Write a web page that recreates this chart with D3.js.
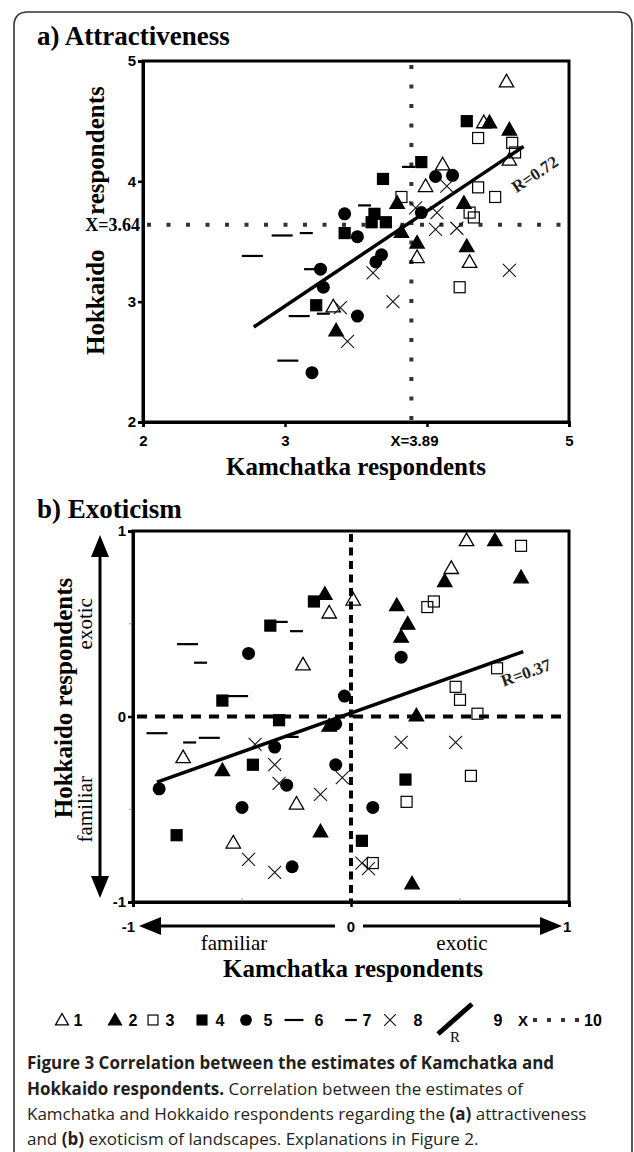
<!DOCTYPE html>
<html><head><meta charset="utf-8">
<script src="https://cdn.jsdelivr.net/npm/d3@7"></script>
<style>body{margin:0;background:#fff} svg{display:block}</style>
</head><body><svg id="c" width="634" height="1152"></svg>
<script>
// ---------- DATA ----------
const seriesIds = ["1","2","3","4","5","6","7","8"];
const seriesShapes = ["triOpen","triFill","sqOpen","sqFill","circle","dashLong","dashShort","cross"];

// a) Attractiveness: [Kamchatka, Hokkaido]
const attr1 = [[4.56,4.83],[4.40,4.49],[4.58,4.18],[4.11,4.14],[3.99,3.96],[3.93,3.37],[4.30,3.33],[3.34,2.96]];
const attr2 = [[4.44,4.49],[4.58,4.43],[4.26,3.82],[3.79,3.82],[3.82,3.58],[3.93,3.49],[4.28,3.46],[3.36,2.76]];
const attr3 = [[4.36,4.36],[4.60,4.32],[4.62,4.24],[4.36,3.95],[4.48,3.87],[4.30,3.74],[4.33,3.70],[4.23,3.12],[3.82,3.87]];
const attr4 = [[4.28,4.50],[3.96,4.16],[3.69,4.02],[3.63,3.73],[3.61,3.66],[3.71,3.66],[3.42,3.57],[3.22,2.97]];
const attr5 = [[4.06,4.04],[4.18,4.05],[3.96,3.74],[3.42,3.73],[3.51,3.54],[3.68,3.39],[3.64,3.33],[3.25,3.27],[3.27,3.12],[3.51,2.88],[3.19,2.41]];
const attr6 = [[2.98,3.55],[2.77,3.38],[3.10,2.88],[3.02,2.51]];
const attr7 = [[3.15,3.57],[3.56,3.80],[3.87,4.12],[3.18,3.27],[3.27,2.90]];
const attr8 = [[4.14,3.96],[3.92,3.78],[4.07,3.74],[4.06,3.60],[4.21,3.61],[4.58,3.26],[3.62,3.24],[3.76,3.00],[3.39,2.95],[3.44,2.67]];
const attrFit = [[2.78,2.79],[4.68,4.29]];
const attrR = "R=0.72";
const attrMeanX = 3.89, attrMeanY = 3.64;
const attrXTicks = [2,3,4,5], attrXTickLabels = ["2","3","X=3.89","5"];
const attrYTicks = [2,3,4,5], attrYTickLabels = ["2","3","4","5"];

// b) Exoticism
const exot1 = [[0.53,0.95],[0.46,0.80],[0.01,0.63],[-0.10,0.56],[-0.22,0.28],[-0.77,-0.22],[-0.25,-0.47],[-0.54,-0.68]];
const exot2 = [[0.66,0.95],[0.78,0.75],[0.43,0.73],[-0.12,0.66],[0.21,0.60],[0.26,0.50],[0.23,0.43],[0.30,0.005],[-0.10,-0.05],[-0.59,-0.29],[-0.14,-0.62],[0.28,-0.90]];
const exot3 = [[0.78,0.92],[0.38,0.62],[0.35,0.59],[0.67,0.26],[0.48,0.16],[0.50,0.09],[0.58,0.015],[0.55,-0.32],[0.255,-0.46],[0.10,-0.79]];
const exot4 = [[-0.17,0.62],[-0.37,0.49],[-0.59,0.086],[-0.33,-0.02],[-0.45,-0.26],[0.25,-0.34],[-0.80,-0.64],[0.05,-0.67]];
const exot5 = [[-0.47,0.34],[0.23,0.32],[-0.03,0.11],[-0.07,-0.04],[-0.35,-0.165],[-0.07,-0.26],[-0.295,-0.37],[-0.88,-0.39],[-0.50,-0.49],[0.10,-0.49],[-0.27,-0.81]];
const exot6 = [[-0.75,0.39],[-0.52,0.11],[-0.89,-0.09],[-0.65,-0.115]];
const exot7 = [[-0.32,0.51],[-0.25,0.46],[-0.69,0.29],[-0.74,-0.14],[-0.27,-0.11]];
const exot8 = [[-0.44,-0.15],[-0.35,-0.26],[-0.33,-0.36],[-0.04,-0.33],[-0.14,-0.42],[-0.47,-0.77],[-0.35,-0.84],[0.23,-0.14],[0.48,-0.14],[0.05,-0.79],[0.08,-0.82]];
const exotFit = [[-0.89,-0.354],[0.79,0.35]];
const exotR = "R=0.37";
const exotTicks = [-1,0,1], exotTickLabels = ["-1","0","1"];
const exotMinor = [-0.5,0.5];

// ---------- DRAW ----------
const svg = d3.select("#c");
const SERIF = "'Liberation Serif','Times New Roman',serif";
const SANS = "'Liberation Sans',Arial,sans-serif";

svg.append("path").attr("d","M14,1152 V26 Q14,12 28,12 H618 Q632,12 632,26 V1152")
  .attr("fill","none").attr("stroke","#333").attr("stroke-width",1.6);

function marker(g, shape, x, y, s) {
  s = s || 1;
  if (shape === "triOpen" || shape === "triFill") {
    const h = 7.2*s;
    g.append("path").attr("d",`M${x},${y-h} L${x+h},${y+h*0.75} L${x-h},${y+h*0.75} Z`)
      .attr("fill", shape==="triFill" ? "#000" : "none").attr("stroke","#000").attr("stroke-width",1.3);
  } else if (shape === "sqOpen" || shape === "sqFill") {
    const h = 5.5*s;
    g.append("rect").attr("x",x-h).attr("y",y-h).attr("width",2*h).attr("height",2*h)
      .attr("fill", shape==="sqFill" ? "#000" : "none").attr("stroke","#000").attr("stroke-width",1.2);
  } else if (shape === "circle") {
    g.append("circle").attr("cx",x).attr("cy",y).attr("r",6.5*s).attr("fill","#000");
  } else if (shape === "dashLong" || shape === "dashShort") {
    const w = (shape==="dashLong" ? 10.5 : 6.5)*s;
    g.append("line").attr("x1",x-w).attr("x2",x+w).attr("y1",y).attr("y2",y)
      .attr("stroke","#000").attr("stroke-width",2.2);
  } else if (shape === "cross") {
    const h = 6.5*s;
    g.append("path").attr("d",`M${x-h},${y-h} L${x+h},${y+h} M${x-h},${y+h} L${x+h},${y-h}`)
      .attr("stroke","#111").attr("stroke-width",1.1).attr("fill","none");
  }
}

// ===== Panel a =====
const xA = d3.scaleLinear().domain([2,5]).range([143,569]);
const yA = d3.scaleLinear().domain([2,5]).range([422,61]);
svg.append("text").attr("x",37).attr("y",45).attr("font-family",SERIF).attr("font-weight","bold")
  .attr("font-size",27).text("a) Attractiveness");

const gA = svg.append("g");
gA.append("rect").attr("x",xA(2)).attr("y",yA(5)).attr("width",xA(5)-xA(2)).attr("height",yA(2)-yA(5))
  .attr("fill","none").attr("stroke","#000").attr("stroke-width",3);
gA.append("line").attr("x1",xA(2)+4).attr("x2",xA(5)).attr("y1",yA(attrMeanY)).attr("y2",yA(attrMeanY))
  .attr("stroke","#333").attr("stroke-width",4).attr("stroke-dasharray","4 15.5");
gA.append("line").attr("x1",xA(attrMeanX)).attr("x2",xA(attrMeanX)).attr("y1",yA(5)+4).attr("y2",yA(2))
  .attr("stroke","#333").attr("stroke-width",4).attr("stroke-dasharray","4 15.5");

const axA_b = gA.append("g").attr("transform",`translate(0,${yA(2)})`)
  .call(d3.axisBottom(xA).tickValues(attrXTicks).tickSize(5).tickFormat((d,i)=>attrXTickLabels[i]));
const axA_l = gA.append("g").attr("transform",`translate(${xA(2)},0)`)
  .call(d3.axisLeft(yA).tickValues(attrYTicks).tickSize(5).tickFormat((d,i)=>attrYTickLabels[i]));
[axA_b, axA_l].forEach(ax => {
  ax.select(".domain").attr("stroke","#000").attr("stroke-width",3);
  ax.selectAll(".tick line").attr("stroke","#000").attr("stroke-width",2.5);
  ax.selectAll(".tick text").attr("font-family",SANS).attr("font-weight","bold").attr("font-size",15).attr("fill","#000");
});
axA_b.selectAll(".tick text").attr("dy","1.05em").filter((d,i)=>i===2).attr("dx",-13);
axA_l.selectAll(".tick text").attr("x",-7);
gA.append("text").attr("x",140).attr("y",yA(attrMeanY)+6).attr("text-anchor","end")
  .attr("font-family",SERIF).attr("font-weight","bold").attr("font-size",18).text("X=3.64");
gA.append("text").attr("x",356).attr("y",475).attr("text-anchor","middle")
  .attr("font-family",SERIF).attr("font-weight","bold").attr("font-size",25).text("Kamchatka respondents");
gA.append("text").attr("transform",`translate(104,355) rotate(-90)`)
  .attr("font-family",SERIF).attr("font-weight","bold").attr("font-size",25).text("Hokkaido");
gA.append("text").attr("transform",`translate(104,215) rotate(-90)`)
  .attr("font-family",SERIF).attr("font-weight","bold").attr("font-size",25).text("respondents");

gA.append("line").attr("x1",xA(attrFit[0][0])).attr("y1",yA(attrFit[0][1]))
  .attr("x2",xA(attrFit[1][0])).attr("y2",yA(attrFit[1][1])).attr("stroke","#000").attr("stroke-width",3.5);
{
  const ang = Math.atan2(yA(attrFit[1][1])-yA(attrFit[0][1]), xA(attrFit[1][0])-xA(attrFit[0][0]))*180/Math.PI;
  gA.append("text").attr("transform",`translate(${xA(4.63)},${yA(3.90)}) rotate(${ang})`)
    .attr("font-family",SERIF).attr("font-weight","bold").attr("font-size",17).attr("fill","#222").text(attrR);
}
const attrSeries = [attr1,attr2,attr3,attr4,attr5,attr6,attr7,attr8];
attrSeries.forEach((arr,k) => arr.forEach(p => marker(gA, seriesShapes[k], xA(p[0]), yA(p[1]), 1)));

// ===== Panel b =====
const xB = d3.scaleLinear().domain([-1,1]).range([133,569]);
const yB = d3.scaleLinear().domain([-1,1]).range([902,531]);
svg.append("text").attr("x",37).attr("y",518).attr("font-family",SERIF).attr("font-weight","bold")
  .attr("font-size",27).text("b) Exoticism");
const gB = svg.append("g");
gB.append("rect").attr("x",xB(-1)).attr("y",yB(1)).attr("width",xB(1)-xB(-1)).attr("height",yB(-1)-yB(1))
  .attr("fill","none").attr("stroke","#000").attr("stroke-width",3);
gB.append("line").attr("x1",xB(0)).attr("x2",xB(0)).attr("y1",yB(1)+3).attr("y2",yB(-1))
  .attr("stroke","#000").attr("stroke-width",4).attr("stroke-dasharray","8 5.5");
gB.append("line").attr("x1",xB(-1)+4).attr("x2",xB(1)).attr("y1",yB(0)).attr("y2",yB(0))
  .attr("stroke","#000").attr("stroke-width",4).attr("stroke-dasharray","10 8");
exotMinor.forEach(v => {
  gB.append("line").attr("x1",xB(v)).attr("x2",xB(v)).attr("y1",yB(-1)).attr("y2",yB(-1)-4).attr("stroke","#999").attr("stroke-width",1);
  gB.append("line").attr("x1",xB(-1)).attr("x2",xB(-1)-4).attr("y1",yB(v)).attr("y2",yB(v)).attr("stroke","#999").attr("stroke-width",1);
});
const axB_b = gB.append("g").attr("transform",`translate(0,${yB(-1)})`)
  .call(d3.axisBottom(xB).tickValues(exotTicks).tickSize(5).tickFormat(""));
const axB_l = gB.append("g").attr("transform",`translate(${xB(-1)},0)`)
  .call(d3.axisLeft(yB).tickValues(exotTicks).tickSize(5).tickFormat((d,i)=>exotTickLabels[i]));
[axB_b, axB_l].forEach(ax => {
  ax.select(".domain").attr("stroke","#000").attr("stroke-width",3);
  ax.selectAll(".tick line").attr("stroke","#000").attr("stroke-width",2.5);
  ax.selectAll(".tick text").attr("font-family",SANS).attr("font-weight","bold").attr("font-size",15).attr("fill","#000").attr("x",-7);
});
const arrowY = 926;
gB.append("line").attr("x1",xB(-1)+24).attr("x2",xB(0)-16).attr("y1",arrowY).attr("y2",arrowY).attr("stroke","#000").attr("stroke-width",3);
gB.append("path").attr("d",`M${xB(-1)+6},${arrowY} l22,-9 v18 Z`).attr("fill","#000");
gB.append("line").attr("x1",xB(0)+12).attr("x2",xB(1)-28).attr("y1",arrowY).attr("y2",arrowY).attr("stroke","#000").attr("stroke-width",3);
gB.append("path").attr("d",`M${xB(1)-7},${arrowY} l-22,-9 v18 Z`).attr("fill","#000");
[[-1,"end",xB(-1)+2],[0,"middle",xB(0)],[1,"start",xB(1)-6]].forEach((d,i)=>{
  gB.append("text").attr("x",d[2]).attr("y",arrowY+6).attr("text-anchor",d[1])
    .attr("font-family",SANS).attr("font-weight","bold").attr("font-size",15).text(exotTickLabels[i]);
});
gB.append("text").attr("x",234).attr("y",950).attr("text-anchor","middle").attr("font-family",SERIF).attr("font-size",21).text("familiar");
gB.append("text").attr("x",462).attr("y",950).attr("text-anchor","middle").attr("font-family",SERIF).attr("font-size",21).text("exotic");
gB.append("text").attr("x",353).attr("y",977).attr("text-anchor","middle")
  .attr("font-family",SERIF).attr("font-weight","bold").attr("font-size",25).text("Kamchatka respondents");
const arrowX = 100;
gB.append("line").attr("x1",arrowX).attr("x2",arrowX).attr("y1",yB(1)+22).attr("y2",yB(-1)-22).attr("stroke","#000").attr("stroke-width",3);
gB.append("path").attr("d",`M${arrowX},${yB(1)+4} l-9,22 h18 Z`).attr("fill","#000");
gB.append("path").attr("d",`M${arrowX},${yB(-1)-4} l-9,-22 h18 Z`).attr("fill","#000");
gB.append("text").attr("transform",`translate(92,${yB(0.5)}) rotate(-90)`).attr("text-anchor","middle").attr("font-family",SERIF).attr("font-size",21).text("exotic");
gB.append("text").attr("transform",`translate(92,${yB(-0.5)}) rotate(-90)`).attr("text-anchor","middle").attr("font-family",SERIF).attr("font-size",21).text("familiar");
gB.append("text").attr("transform",`translate(72,698) rotate(-90)`).attr("text-anchor","middle")
  .attr("font-family",SERIF).attr("font-weight","bold").attr("font-size",25).text("Hokkaido respondents");
gB.append("line").attr("x1",xB(exotFit[0][0])).attr("y1",yB(exotFit[0][1]))
  .attr("x2",xB(exotFit[1][0])).attr("y2",yB(exotFit[1][1])).attr("stroke","#000").attr("stroke-width",3.5);
{
  const ang = Math.atan2(yB(exotFit[1][1])-yB(exotFit[0][1]), xB(exotFit[1][0])-xB(exotFit[0][0]))*180/Math.PI;
  gB.append("text").attr("transform",`translate(${xB(0.70)},${yB(0.16)}) rotate(${ang})`)
    .attr("font-family",SERIF).attr("font-weight","bold").attr("font-size",17).attr("fill","#222").text(exotR);
}
const exotSeries = [exot1,exot2,exot3,exot4,exot5,exot6,exot7,exot8];
exotSeries.forEach((arr,k) => arr.forEach(p => marker(gB, seriesShapes[k], xB(p[0]), yB(p[1]), 1)));

// ===== Legend =====
const legY = 1020;
const legMarkX = [62,115,153,202,246,294,351,390];
const legNumX = [78,133,170,220,268,319,367,418];
const gL = svg.append("g");
seriesShapes.forEach((s,i) => {
  marker(gL, s, legMarkX[i], legY, 0.9);
  gL.append("text").attr("x",legNumX[i]).attr("y",legY+6).attr("text-anchor","middle")
    .attr("font-family",SANS).attr("font-weight","bold").attr("font-size",16).text(seriesIds[i]);
});
gL.append("line").attr("x1",438).attr("y1",1034).attr("x2",472).attr("y2",1004).attr("stroke","#000").attr("stroke-width",5);
gL.append("text").attr("x",450).attr("y",1042).attr("font-family",SERIF).attr("font-size",15).text("R");
gL.append("text").attr("x",498).attr("y",legY+6).attr("text-anchor","middle").attr("font-family",SANS).attr("font-weight","bold").attr("font-size",16).text("9");
gL.append("text").attr("x",523).attr("y",legY+6).attr("text-anchor","middle").attr("font-family",SANS).attr("font-weight","bold").attr("font-size",15).text("X");
[535,549,563,577].forEach(x => gL.append("rect").attr("x",x-2).attr("y",legY-2).attr("width",4).attr("height",4).attr("fill","#333"));
gL.append("text").attr("x",593).attr("y",legY+6).attr("text-anchor","middle").attr("font-family",SANS).attr("font-weight","bold").attr("font-size",16).text("10");

// ===== Caption =====
const capLines = [
  [["Figure 3 Correlation between the estimates of Kamchatka and",true]],
  [["Hokkaido respondents.",true],[" Correlation between the estimates of",false]],
  [["Kamchatka and Hokkaido respondents regarding the ",false],["(a)",true],[" attractiveness",false]],
  [["and ",false],["(b)",true],[" exoticism of landscapes. Explanations in Figure 2.",false]]
];
const capY = [1069, 1095, 1120, 1145];
capLines.forEach((line,i) => {
  const t = svg.append("text").attr("x",27).attr("y",capY[i]).attr("font-family","'Open Sans',sans-serif")
    .attr("font-size",17).attr("fill","#231f20").attr("xml:space","preserve");
  line.forEach(seg => t.append("tspan").attr("font-weight",seg[1]?"bold":"normal").text(seg[0]));
});
</script></body></html>
